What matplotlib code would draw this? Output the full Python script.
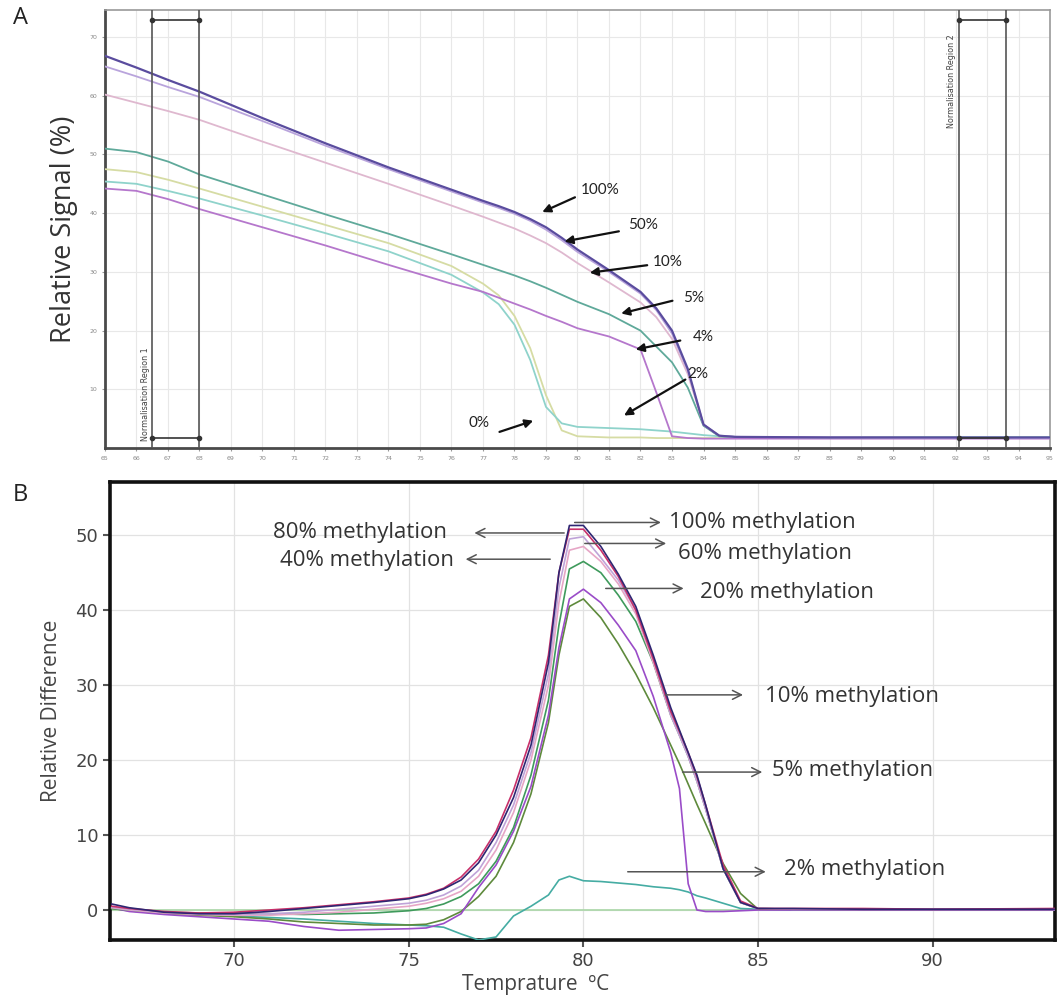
import numpy as np
import matplotlib
matplotlib.use('Agg')
import matplotlib.pyplot as plt

# ---- panel A: normalised melt curves ----
temps_a = [65, 66, 67, 68, 70, 72, 74, 76, 77, 77.5, 78, 78.5, 79, 79.5, 80,
           81, 82, 82.5, 83, 83.5, 84, 84.5, 85, 88, 92, 95]
sig_100 = [66.8, 64.8, 62.7, 60.7, 56.2, 51.9, 47.8, 44.0, 42.1, 41.2, 40.2, 39.0, 37.6, 35.8, 33.8,
           30.3, 26.6, 23.8, 20.0, 13.5, 4.0, 2.1, 1.9, 1.8, 1.8, 1.8]
sig_50 = [65.0, 63.3, 61.5, 59.8, 55.7, 51.5, 47.5, 43.7, 41.8, 40.9, 39.9, 38.7, 37.2, 35.4, 33.4,
          30.0, 26.3, 23.5, 19.5, 13.2, 4.0, 2.1, 1.9, 1.8, 1.7, 1.7]
sig_10 = [60.2, 58.8, 57.4, 55.9, 52.2, 48.6, 45.0, 41.3, 39.4, 38.4, 37.4, 36.2, 34.9, 33.3, 31.5,
          28.2, 24.8, 22.3, 18.6, 12.6, 4.0, 2.1, 1.9, 1.8, 1.7, 1.7]
sig_5 = [51.0, 50.4, 48.8, 46.6, 43.2, 39.8, 36.5, 33.0, 31.2, 30.3, 29.4, 28.4, 27.3, 26.1, 24.9,
         22.8, 20.0, 17.3, 14.6, 10.3, 3.8, 2.0, 1.9, 1.8, 1.8, 1.8]
sig_4 = [44.2, 43.8, 42.4, 40.7, 37.6, 34.5, 31.2, 28.0, 26.6, 25.6, 24.6, 23.6, 22.5, 21.5, 20.4,
         19.0, 16.8, 9.5, 2.0, 1.7, 1.6, 1.6, 1.6, 1.6, 1.6, 1.6]
sig_2 = [45.4, 45.0, 43.8, 42.5, 39.6, 36.6, 33.5, 29.5, 26.5, 24.5, 21.0, 15.0, 7.0, 4.2, 3.6,
         3.4, 3.2, 3.0, 2.8, 2.5, 2.2, 2.0, 1.9, 1.8, 1.8, 1.8]
sig_0 = [47.5, 47.0, 45.7, 44.2, 41.1, 38.0, 34.9, 31.0, 28.0, 26.0, 22.5, 17.0, 9.0, 3.0, 2.0,
         1.8, 1.8, 1.7, 1.7, 1.7, 1.7, 1.7, 1.7, 1.7, 1.7, 1.7]
labels_a = ['100%', '50%', '10%', '5%', '4%', '2%', '0%']
colors_a = ['#5a4c9e', '#b9a4dc', '#dfb8cf', '#5fa99a', '#b577cc', '#8fd3cb', '#d6dca4']
norm_region1 = [66.5, 68.0]
norm_region2 = [92.1, 93.6]

# ---- panel B: difference plot ----
temps_b = [66.5, 67, 68, 69, 70, 71, 72, 73, 74, 75, 75.5, 76, 76.5, 77, 77.5, 78, 78.5, 79,
           79.3, 79.6, 80, 80.5, 81, 81.5, 82, 82.5, 82.75, 83, 83.25, 83.5, 84, 84.5, 85,
           86, 88, 90, 93.5]
diff_100 = [0.8, 0.3, -0.3, -0.5, -0.5, -0.2, 0.2, 0.6, 1.0, 1.5, 2.0, 2.8, 4.0, 6.3, 10.0, 15.0,
            22.0, 33.0, 45.0, 51.3, 51.3, 48.5, 44.8, 40.5, 34.0, 27.0, 24.0, 21.0, 18.0, 14.0,
            5.5, 1.0, 0.2, 0.2, 0.1, 0.1, 0.1]
diff_80 = [0.5, 0.2, -0.2, -0.4, -0.3, 0.0, 0.3, 0.7, 1.1, 1.6, 2.1, 2.9, 4.4, 6.8, 10.5, 16.0,
           23.0, 34.0, 45.0, 50.8, 50.8, 48.0, 44.5, 40.0, 33.5, 26.5, 23.8, 21.0, 17.8, 14.0,
           6.0, 1.2, 0.2, 0.2, 0.2, 0.1, 0.2]
diff_60 = [0.4, 0.1, -0.3, -0.5, -0.6, -0.5, -0.3, 0.1, 0.5, 0.9, 1.3, 2.0, 3.2, 5.3, 9.0, 14.0,
           21.0, 31.5, 43.0, 49.5, 49.8, 47.0, 44.0, 40.0, 33.5, 26.0, 23.3, 20.5, 17.2, 13.5,
           5.5, 1.0, 0.2, 0.1, 0.1, 0.1, 0.1]
diff_40 = [0.3, 0.0, -0.4, -0.6, -0.7, -0.7, -0.5, -0.3, 0.1, 0.5, 0.9, 1.5, 2.5, 4.5, 8.0, 13.0,
           20.0, 30.0, 41.0, 48.0, 48.5, 46.5, 43.5, 39.5, 33.0, 26.0, 23.3, 20.5, 17.2, 13.5,
           5.5, 1.0, 0.2, 0.1, 0.1, 0.1, 0.1]
diff_20 = [0.2, 0.0, -0.3, -0.4, -0.4, -0.5, -0.6, -0.5, -0.4, -0.1, 0.2, 0.8, 1.8, 3.5, 6.5, 11.0,
           18.0, 28.0, 38.0, 45.5, 46.5, 45.0, 42.0, 38.5, 33.0, 26.0, 23.3, 20.5, 17.2, 13.5,
           5.5, 1.0, 0.2, 0.1, 0.1, 0.1, 0.1]
diff_10 = [0.3, -0.2, -0.6, -0.9, -1.2, -1.5, -2.2, -2.7, -2.6, -2.5, -2.4, -1.8, -0.5, 3.0, 6.0,
           10.5, 16.5, 26.0, 35.0, 41.5, 42.8, 41.0, 38.0, 34.6, 28.5, 21.0, 16.2, 3.5, 0.0, -0.2,
           -0.2, -0.1, 0.0, 0.0, 0.0, 0.0, 0.0]
diff_5 = [0.2, -0.1, -0.5, -0.7, -0.9, -1.2, -1.6, -1.8, -2.0, -2.0, -1.9, -1.3, -0.2, 1.8, 4.5,
          9.0, 15.5, 25.0, 34.0, 40.5, 41.5, 39.0, 35.5, 31.5, 27.0, 22.0, 19.5, 16.8, 14.1, 11.5,
          6.2, 2.2, 0.1, 0.1, 0.0, 0.0, 0.0]
diff_2 = [0.3, 0.0, -0.3, -0.5, -0.8, -1.0, -1.2, -1.5, -1.8, -2.0, -2.1, -2.3, -3.2, -4.0, -3.6,
          -0.8, 0.5, 2.0, 4.0, 4.5, 3.9, 3.8, 3.6, 3.4, 3.1, 2.9, 2.7, 2.4, 1.9, 1.6, 0.9, 0.2,
          0.1, 0.0, 0.0, 0.0, 0.0]
diff_0 = [0.0] * len(temps_b)
colors_b = ['#2f2672', '#c8306a', '#bfa3d8', '#e6a6c6', '#3f9a5c', '#9a4cc8', '#5e8a3c', '#45aca3', '#a9d6a6']

fig = plt.figure(figsize=(10.57, 10.05), dpi=100)

# ------------------------------------------------------------ panel A
ax1 = fig.add_axes([0.0993, 0.5542, 0.8941, 0.4358])
for vals, c in zip([sig_0, sig_2, sig_4, sig_5, sig_10, sig_50, sig_100],
                   colors_a[::-1]):
    ax1.plot(temps_a, vals, color=c, lw=1.6 if c == '#5a4c9e' else 1.3, zorder=3)

ax1.set_xlim(65, 95)
ax1.set_ylim(0, 74.6)
ax1.set_xticks(np.arange(65, 96, 1))
ax1.set_yticks(np.arange(10, 71, 10))
ax1.tick_params(labelsize=4.5, labelcolor='#888888', length=2, color='#999999')
ax1.grid(True, color='#e8e8e8', lw=0.8)
ax1.set_axisbelow(True)
for side in ['left', 'bottom']:
    ax1.spines[side].set_color('#4a4a4a')
    ax1.spines[side].set_linewidth(2)
for side in ['top', 'right']:
    ax1.spines[side].set_color('#9a9a9a')
    ax1.spines[side].set_linewidth(1.2)

# normalisation regions
for reg, name, va_y in [(norm_region1, 'Normalisation Region 1', 1.2),
                        (norm_region2, 'Normalisation Region 2', 54.5)]:
    for t in reg:
        ax1.axvline(t, color='#555555', lw=1.2, zorder=4)
    for yy in [72.9, 1.7]:
        ax1.plot(reg, [yy, yy], color='#333333', lw=1.2, marker='o', ms=3, zorder=5)
    ax1.text(reg[0] - 0.07, va_y, name, rotation=90, ha='right', va='bottom',
             fontsize=5.8, color='#444444')

ax1.set_ylabel('Relative Signal (%)', fontsize=19.5, color='#333333', family='Open Sans', labelpad=8)

arrows_a = [('100%', (80.0, 42.9), (78.8, 40.0), (80.1, 43.9)),
            ('50%', (81.4, 37.0), (79.5, 35.1), (81.6, 38.0)),
            ('10%', (82.3, 31.2), (80.3, 29.8), (82.4, 31.7)),
            ('5%', (83.1, 25.2), (81.3, 22.8), (83.35, 25.5)),
            ('4%', (83.35, 18.4), (81.76, 16.7), (83.65, 18.9)),
            ('2%', (83.5, 11.9), (81.4, 5.3), (83.5, 12.6)),
            ('0%', (77.44, 2.6), (78.68, 4.8), (76.55, 4.3))]
for lab, start, tip, tpos in arrows_a:
    ax1.annotate('', xy=tip, xytext=start,
                 arrowprops=dict(arrowstyle='-|>', color='#111111', lw=1.6, mutation_scale=12),
                 zorder=6)
    ax1.text(tpos[0], tpos[1], lab, fontsize=11, family='Lato', color='#222222',
             ha='left', va='center')

fig.text(0.012, 0.982, 'A', fontsize=17, family='Open Sans', color='#222222', va='center')

# ------------------------------------------------------------ panel B
ax2 = fig.add_axes([0.1041, 0.0647, 0.8940, 0.4557])
ax2.plot(temps_b, diff_0, color=colors_b[8], lw=1.2, zorder=2)
for vals, c in zip([diff_2, diff_5, diff_10, diff_20, diff_40, diff_60, diff_80, diff_100],
                   colors_b[7::-1]):
    ax2.plot(temps_b, vals, color=c, lw=1.2, zorder=3)

ax2.set_xlim(66.45, 93.5)
ax2.set_ylim(-4.0, 57.1)
ax2.set_xticks([70, 75, 80, 85, 90])
ax2.set_yticks([0, 10, 20, 30, 40, 50])
ax2.tick_params(labelsize=13, labelcolor='#444444', length=5, width=1.5, color='#555555')
ax2.grid(True, color='#e2e2e2', lw=0.9)
ax2.set_axisbelow(True)
for side in ax2.spines.values():
    side.set_color('#111111')
    side.set_linewidth(2.6)

ax2.set_ylabel('Relative Difference', fontsize=15, color='#444444', family='Open Sans', labelpad=10)
ax2.set_xlabel('Temprature  \u00baC', fontsize=15, color='#444444', family='Open Sans')
ax2.xaxis.set_label_coords(0.45, -0.075)

arrows_b = [('100% methylation', (79.67, 51.7), (82.3, 51.7), (82.45, 51.7), 'left'),
            ('60% methylation', (79.96, 48.9), (82.45, 48.9), (82.7, 47.6), 'left'),
            ('20% methylation', (80.56, 42.9), (82.95, 42.9), (83.35, 42.3), 'left'),
            ('80% methylation', (79.53, 50.3), (76.8, 50.3), (76.1, 50.3), 'right'),
            ('40% methylation', (79.13, 46.8), (76.55, 46.8), (76.3, 46.6), 'right'),
            ('10% methylation', (82.27, 28.7), (84.65, 28.7), (85.2, 28.5), 'left'),
            ('5% methylation', (82.76, 18.4), (85.2, 18.4), (85.4, 18.6), 'left'),
            ('2% methylation', (81.19, 5.1), (85.3, 5.1), (85.75, 5.4), 'left')]
for lab, start, tip, tpos, ha in arrows_b:
    ax2.annotate('', xy=tip, xytext=start,
                 arrowprops=dict(arrowstyle='->', color='#555555', lw=1.1, mutation_scale=16),
                 zorder=6)
    ax2.text(tpos[0], tpos[1], lab, fontsize=16, family='Open Sans', color='#333333',
             ha=ha, va='center')

fig.text(0.012, 0.507, 'B', fontsize=17, family='Open Sans', color='#222222', va='center')

plt.savefig('out.png', dpi=100)
plt.close()
